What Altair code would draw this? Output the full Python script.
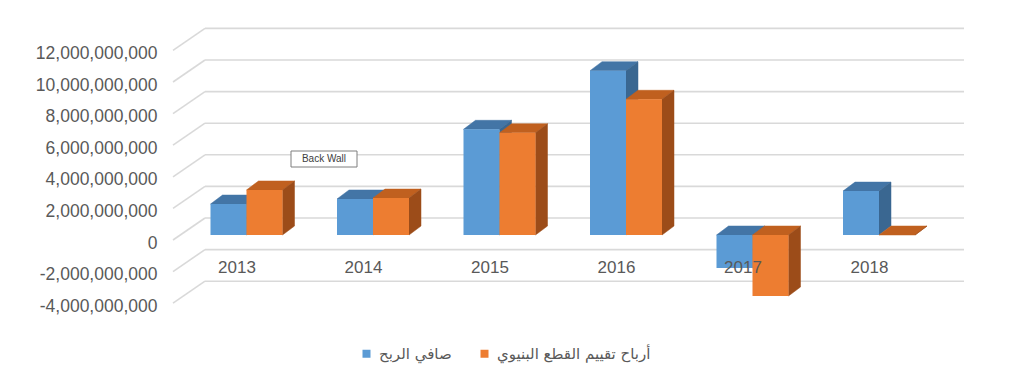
import altair as alt
import pandas as pd

# ---------------- data ----------------
years = ["2013", "2014", "2015", "2016", "2017", "2018"]
series_names = ["صافي الربح", "أرباح تقييم القطع البنيوي"]
net_profit = [1.96e9, 2.28e9, 6.69e9, 10.40e9, -2.09e9, 2.78e9]
valuation_gains = [2.85e9, 2.34e9, 6.47e9, 8.59e9, -3.86e9, 0.0]
tick_values = [-4e9, -2e9, 0, 2e9, 4e9, 6e9, 8e9, 10e9, 12e9]

# ---------------- style ----------------
front_colors = ["#5B9BD5", "#ED7D31"]
top_colors = ["#4375A6", "#C0601F"]
side_colors = ["#3A6791", "#9C4C19"]
grid_color = "#D9D9D9"
text_color = "#595959"

PX_X = 126.5          # pixels per category
PX_Y = 15.8           # pixels per 1e9
W, H = 851, 366
X_DOMAIN = [-72 / PX_X, 779 / PX_X]
Y_DOMAIN = [-134 / PX_Y * 1e9, 232 / PX_Y * 1e9]


def dxu(px):
    return px / PX_X


def dyu(px):
    return px / PX_Y * 1e9


xs = alt.Scale(domain=X_DOMAIN, nice=False, zero=False)
ys = alt.Scale(domain=Y_DOMAIN, nice=False, zero=False)

Y_AXIS = alt.Axis(
    values=tick_values, domain=False, ticks=False, grid=False,
    labelPadding=8, labelOffset=3, labelFont="Liberation Sans", labelFontSize=17.5,
    labelColor=text_color, title=None,
    labelExpr="(datum.value < 0 ? '-' : '') + format(abs(datum.value), ',')")


def X(field):
    return alt.X(field, scale=xs, axis=None)


def Y(field):
    return alt.Y(field, scale=ys, axis=Y_AXIS)


BAR_W = dxu(36)
PAIR_SHIFT = dxu(9.5)
BASE_SHIFT = dyu(5)
DDX, DDY = dxu(12), dyu(9)
WALL_DX, WALL_DY = dxu(32), dyu(22)
FLOOR_X0 = dxu(173 - 237)
WALL_X1 = dxu(964 - 237)

# ---------------- gridlines ----------------
grid_df = pd.DataFrame({"v": tick_values})
grid_df["yb"] = grid_df["v"] + WALL_DY

axis_layer = alt.Chart(grid_df).mark_rule(color=grid_color, strokeWidth=1.6).encode(
    x=X("fx:Q"), x2="bx:Q", y=Y("v:Q"), y2="yb:Q",
).transform_calculate(fx=str(FLOOR_X0), bx=str(FLOOR_X0 + WALL_DX))

back_layer = alt.Chart(grid_df).mark_rule(color=grid_color, strokeWidth=1.6).encode(
    x=X("bx:Q"), x2="ex:Q", y=Y("yb:Q"),
).transform_calculate(bx=str(FLOOR_X0 + WALL_DX), ex=str(WALL_X1))

# ---------------- bars ----------------
layers = [axis_layer, back_layer]
all_values = [net_profit, valuation_gains]
for k, vals in enumerate(all_values):
    fronts, tops, sides = [], [], []
    for i, v in enumerate(vals):
        c = i + PAIR_SHIFT
        xl = c - BAR_W + k * BAR_W
        xr = xl + BAR_W
        yb = min(0, v) + BASE_SHIFT
        yt = max(0, v) + BASE_SHIFT
        fronts.append({"x": xl, "x2": xr, "y": yb, "y2": yt, "series": series_names[k]})
        tops.append({"face": i, "y": yt, "x": xl, "x2": xr})
        tops.append({"face": i, "y": yt + DDY, "x": xl + DDX, "x2": xr + DDX})
        sides.append({"face": i, "x": xr, "y": yb, "y2": yt})
        sides.append({"face": i, "x": xr + DDX, "y": yb + DDY, "y2": yt + DDY})
    top_layer = alt.Chart(pd.DataFrame(tops)).mark_area(
        orient="horizontal", color=top_colors[k], stroke=top_colors[k], strokeWidth=0.5
    ).encode(y=Y("y:Q"), x=X("x:Q"), x2="x2:Q", detail="face:N")
    side_layer = alt.Chart(pd.DataFrame(sides)).mark_area(
        orient="vertical", color=side_colors[k], stroke=side_colors[k], strokeWidth=0.5
    ).encode(x=X("x:Q"), y=Y("y:Q"), y2="y2:Q", detail="face:N")
    front_layer = alt.Chart(pd.DataFrame(fronts)).mark_rect().encode(
        x=X("x:Q"), x2="x2:Q", y=Y("y:Q"), y2="y2:Q",
        color=alt.Color("series:N", scale=alt.Scale(domain=series_names, range=front_colors),
                        legend=alt.Legend(
                            orient="none", legendX=194, legendY=338, direction="horizontal",
                            title=None, symbolType="square", symbolSize=64,
                            symbolStrokeWidth=0, labelFont="DejaVu Sans", labelFontSize=15,
                            labelColor=text_color, labelOffset=5, columnPadding=25,
                            labelLimit=400)),
    )
    layers += [top_layer, side_layer, front_layer]

# ---------------- category labels ----------------
cat_df = pd.DataFrame({"year": years, "i": list(range(len(years)))})
cat_df["yl"] = dyu(-28)
cat_layer = alt.Chart(cat_df).mark_text(
    font="Liberation Sans", fontSize=17, color=text_color, baseline="middle", align="center"
).encode(x=X("i:Q"), y=Y("yl:Q"), text="year:N")
layers.append(cat_layer)

# ---------------- "Back Wall" tooltip ----------------
bw_box = pd.DataFrame({"x": [dxu(291 - 237)], "x2": [dxu(357 - 237)],
                       "y": [dyu(240 - 167)], "y2": [dyu(240 - 151)],
                       "t": ["Back Wall"], "cx": [dxu(324 - 237)], "cy": [dyu(240 - 159)]})
bw_rect = alt.Chart(bw_box).mark_rect(fill="white", stroke="#7F7F7F", strokeWidth=1).encode(
    x=X("x:Q"), x2="x2:Q", y=Y("y:Q"), y2="y2:Q")
bw_text = alt.Chart(bw_box).mark_text(font="Liberation Sans", fontSize=10, color="#404040").encode(
    x=X("cx:Q"), y=Y("cy:Q"), text="t:N")
layers += [bw_rect, bw_text]

chart = alt.layer(*layers).properties(
    width=W, height=H,
    autosize=alt.AutoSizeParams(type="none"),
    padding={"left": 157, "top": 0, "right": 0, "bottom": 0},
    background="white",
).configure_view(stroke=None)

chart.save("out.html", embed_options={"renderer": "svg", "actions": False})
